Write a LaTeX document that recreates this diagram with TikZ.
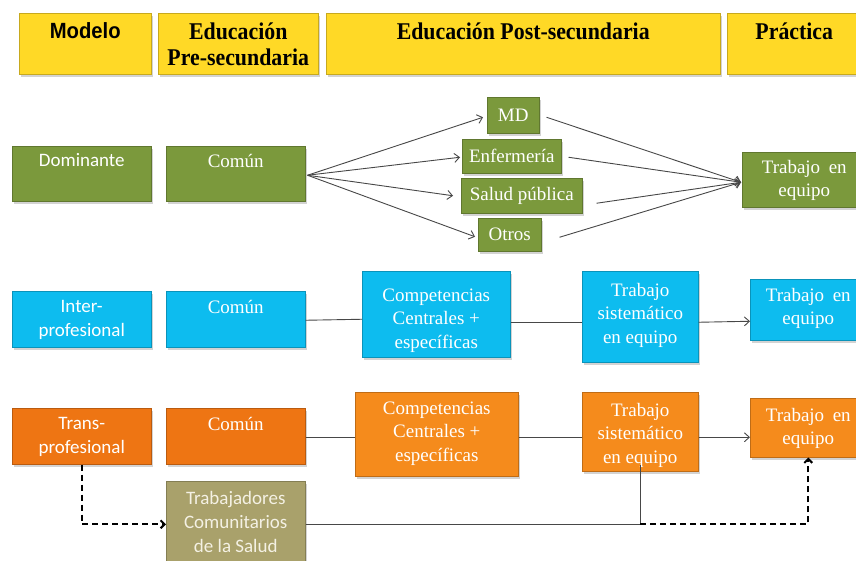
\documentclass[tikz,border=0pt]{standalone}
\usepackage{fontspec}
\setmainfont{Liberation Serif}
\newfontfamily\calib{Carlito}
\newfontfamily\hdr[FakeStretch=0.91]{Liberation Serif}
\newfontfamily\hsans[FakeStretch=0.92]{Liberation Sans}
\usetikzlibrary{arrows.meta,shadows}
\definecolor{yel}{HTML}{FFD926}
\definecolor{gr}{HTML}{7B993C}
\definecolor{cy}{HTML}{0DBCEF}
\definecolor{ord}{HTML}{EE7513}
\definecolor{orl}{HTML}{F58B1C}
\definecolor{kh}{HTML}{A9A16B}
\definecolor{khtext}{HTML}{F4F1E4}
\newcommand\bt[4]{\parbox[c][#2][t]{#1}{\centering\rule{0pt}{#3}#4\par}}
\begin{document}
\begin{tikzpicture}[x=1pt,y=-1pt,
  bx/.style={draw=#1!78!black, line width=0.5pt, fill=#1, inner sep=0pt,
    anchor=north west, text=white, font=\fontsize{19}{23.5}\selectfont,
    drop shadow={opacity=0.35, shadow xshift=1.5pt, shadow yshift=-2.5pt}},
  hd/.style={bx=yel, text=black, font=\hdr\bfseries\fontsize{24}{26}\selectfont},
  sans/.style={font=\calib\fontsize{19}{24}\selectfont},
  ln/.style={draw=black!72, line width=0.9pt},
  arr/.style={ln, -{Straight Barb[length=5pt,width=9pt]}},
  darr/.style={draw=black, line width=2pt, dash pattern=on 6pt off 4pt,
    -{Straight Barb[length=4pt,width=8pt,line width=2pt]}}]
\useasboundingbox (0,0) rectangle (856,560);
\clip (0,0) rectangle (856,560);

% header
\node[hd, font=\hsans\bfseries\fontsize{22}{26}\selectfont] (h1) at (19,13) {\bt{132pt}{61pt}{25pt}{Modelo}};
\node[hd] (h2) at (158,13) {\bt{160pt}{61pt}{26pt}{Educación\\Pre-secundaria}};
\node[hd] (h3) at (326,13) {\bt{394pt}{61pt}{26pt}{Educación Post-secundaria}};
\node[hd] (h4) at (727,13) {\bt{134pt}{61pt}{26pt}{Práctica}};

% row 1
\node[bx=gr, sans] (dom) at (12,146) {\bt{139pt}{55pt}{20pt}{Dominante}};
\node[bx=gr] (com1) at (166,146) {\bt{139pt}{55pt}{21pt}{Común}};
\node[bx=gr, minimum width=52pt, minimum height=36pt] (md) at (487,97) {MD};
\node[bx=gr, minimum width=99pt, minimum height=34pt] (enf) at (462,139) {Enfermería};
\node[bx=gr, minimum width=121pt, minimum height=35pt] (sal) at (461,178) {Salud pública};
\node[bx=gr, minimum width=63pt, minimum height=33pt] (otr) at (478,218) {Otros};
\node[bx=gr] (te1) at (742,152) {\bt{124pt}{55pt}{21pt}{Trabajo\hspace{0.45em}en\\equipo}};

% row 2
\node[bx=cy, sans] (inter) at (12,291) {\bt{139pt}{56pt}{21pt}{Inter-\\profesional}};
\node[bx=cy] (com2) at (166,291) {\bt{139pt}{56pt}{22pt}{Común}};
\node[bx=cy] (comp2) at (362,271) {\bt{148pt}{86pt}{30pt}{Competencias\\Centrales +\\específicas}};
\node[bx=cy] (ts2) at (582,271) {\bt{116pt}{91pt}{25pt}{Trabajo\\sistemático\\en equipo}};
\node[bx=cy] (te2) at (750,279) {\bt{116pt}{61pt}{22pt}{Trabajo\hspace{0.45em}en\\equipo}};

% row 3
\node[bx=ord, sans] (trans) at (12,408) {\bt{139pt}{56pt}{21pt}{Trans-\\profesional}};
\node[bx=ord] (com3) at (166,408) {\bt{139pt}{56pt}{22pt}{Común}};
\node[bx=orl] (comp3) at (355,392) {\bt{163pt}{84pt}{22pt}{Competencias\\Centrales +\\específicas}};
\node[bx=orl] (ts3) at (582,392) {\bt{116pt}{79pt}{24pt}{Trabajo\\sistemático\\en equipo}};
\node[bx=orl] (te3) at (750,398) {\bt{116pt}{59pt}{23pt}{Trabajo\hspace{0.45em}en\\equipo}};
\node[bx=kh, sans, text=khtext] (trab) at (166,481) {\bt{139pt}{86pt}{23pt}{Trabajadores\\Comunitarios\\de la Salud}};

% row 1 connectors
\coordinate (f1) at ([xshift=2pt,yshift=-1.5pt]com1.east);
\coordinate (f2) at ([xshift=-1pt,yshift=-2.5pt]te1.west);
\draw[arr] (f1) -- ([xshift=-4pt,yshift=-2pt]md.west);
\draw[arr] (f1) -- ([xshift=-2pt,yshift=-1pt]enf.west);
\draw[arr] (f1) -- ([xshift=-8pt]sal.west);
\draw[arr] (f1) -- ([xshift=-3pt,yshift=-2pt]otr.west);
\draw[arr] ([xshift=7pt,yshift=-2pt]md.east) -- (f2);
\draw[arr] ([xshift=7pt,yshift=-1pt]enf.east) -- (f2);
\draw[arr] ([xshift=14pt,yshift=-7.5pt]sal.east) -- (f2);
\draw[arr] ([xshift=18pt,yshift=-2.5pt]otr.east) -- (f2);

% row 2 connectors
\draw[ln] ([yshift=-1pt]com2.east) -- ([yshift=-5pt]comp2.west);
\draw[ln] ([yshift=-8pt]comp2.east) -- ([yshift=-5.5pt]ts2.west);
\draw[arr] ([yshift=-5.5pt]ts2.east) -- ([yshift=-11.5pt]te2.west);

% row 3 connectors
\draw[ln] ([yshift=-1pt]com3.east) -- ([yshift=-3pt]comp3.west);
\draw[ln] ([yshift=-3pt]comp3.east) -- ([yshift=-5.5pt]ts3.west);
\draw[arr] ([yshift=-5.5pt]ts3.east) -- ([yshift=-9.5pt]te3.west);

% bottom connectors
\draw[darr] (trans.south) |- (trab.west);
\coordinate (j) at (ts3.south |- trab.east);
\draw[ln] (trab.east) -- (j) -- ([yshift=7pt]ts3.south);
\draw[darr] (j) -| (te3.south);
\end{tikzpicture}
\end{document}
